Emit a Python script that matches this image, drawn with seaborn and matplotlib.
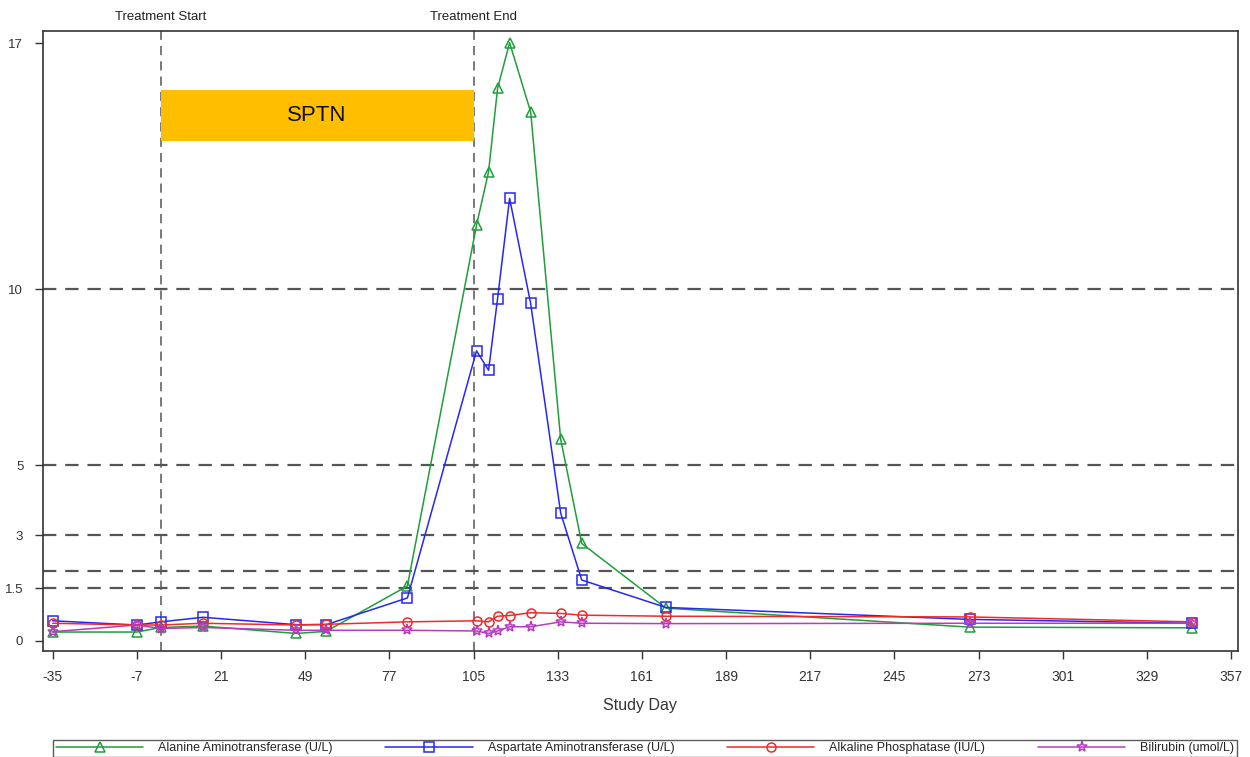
import matplotlib
matplotlib.use("Agg")
import matplotlib.pyplot as plt
import seaborn as sns
import pandas as pd

# Study days of each lab draw
days = [-35, -7, 1, 15, 46, 56, 83, 106, 110, 113, 117, 124, 134, 141, 169, 270, 344]

# Values (x ULN)
alt = [0.25, 0.25, 0.38, 0.42, 0.21, 0.27, 1.56, 11.83, 13.35, 15.72, 17.02, 15.05, 5.73, 2.77, 0.93, 0.39, 0.37]
ast = [0.57, 0.45, 0.54, 0.67, 0.46, 0.46, 1.22, 8.25, 7.70, 9.74, 12.59, 9.60, 3.63, 1.73, 0.95, 0.61, 0.50]
alp = [0.50, 0.45, 0.45, 0.50, 0.45, 0.47, 0.54, 0.57, 0.54, 0.70, 0.72, 0.80, 0.78, 0.73, 0.70, 0.68, 0.54]
bili = [0.26, 0.45, 0.35, 0.38, 0.30, 0.30, 0.30, 0.28, 0.21, 0.28, 0.40, 0.40, 0.54, 0.50, 0.49, 0.50, 0.50]

series_names = ['Alanine Aminotransferase (U/L)', 'Aspartate Aminotransferase (U/L)',
                'Alkaline Phosphatase (IU/L)', 'Bilirubin (umol/L)']
series_vals = [alt, ast, alp, bili]
series_colors = ['#1f9e3a', '#2727f0', '#f02a2a', '#b63cc0']
series_markers = ['^', 's', 'o', '*']

ref_levels = [1.5, 2, 3, 5, 10]
y_ticks = [0, 1.5, 3, 5, 10, 17]
x_ticks = list(range(-35, 358, 28))

trt_start, trt_end = 1, 105
bar_low, bar_high = 14.22, 15.67

sns.set_theme(style="white")
plt.rcParams['font.family'] = ['Liberation Sans', 'DejaVu Sans']

fig = plt.figure(figsize=(12.5, 7.57), dpi=100)
ax = fig.add_axes([0.0342, 0.140, 0.9562, 0.8194])

# reference lines
for lvl in ref_levels:
    ax.axhline(lvl, color='#555555', linestyle=(0, (6, 4)), linewidth=1.6, zorder=1)
for d in (trt_start, trt_end):
    ax.axvline(d, color='#555555', linestyle=(0, (6, 4)), linewidth=1.1, zorder=1)

# treatment bar
ax.fill_between([trt_start, trt_end], bar_low, bar_high, color='#ffbe00', linewidth=0, zorder=2)
ax.text((trt_start + trt_end) / 2, (bar_low + bar_high) / 2, 'SPTN', ha='center', va='center',
        fontsize=16, color='#111111', zorder=3)

for name, vals, c, m in zip(series_names, series_vals, series_colors, series_markers):
    df = pd.DataFrame({'day': days, 'value': vals})
    sns.lineplot(data=df, x='day', y='value', ax=ax, color=c, linewidth=1.1,
                 marker=m, markersize=8 if m == '*' else 6.5, markerfacecolor='none',
                 markeredgecolor=c, markeredgewidth=1.1, label=name, zorder=4)

ax.set_xlim(-38.3, 359.3)
ax.set_ylim(-0.29, 17.36)
ax.set_xticks(x_ticks)
ax.set_xticklabels([str(t) for t in x_ticks], fontsize=10, color='#333333')
ax.set_yticks(y_ticks)
ax.set_yticklabels(['0', '1.5', '3', '5', '10', '17'], fontsize=9.5, color='#333333')
ax.tick_params(axis='both', direction='out', length=6, width=1, color='#333333', pad=8,
               bottom=True, left=True)
ax.set_xlabel('Study Day', fontsize=11.5, color='#333333', labelpad=10)
ax.set_ylabel('')
for s in ax.spines.values():
    s.set_color('#333333')
    s.set_linewidth(1.2)

# treatment labels above the plot
for d, lab in ((trt_start, 'Treatment Start'), (trt_end, 'Treatment End')):
    ax.text(d, 1.012, lab, transform=ax.get_xaxis_transform(), ha='center', va='bottom',
            fontsize=9.5, color='#222222')

handles, labels = ax.get_legend_handles_labels()
ax.get_legend().remove()
leg = fig.legend(handles, labels, loc='upper center', bbox_to_anchor=(0.516, 0.031), ncol=4,
                 fontsize=9, frameon=True, fancybox=False, handlelength=7,
                 handletextpad=1.2, columnspacing=4.2, borderpad=0.2, edgecolor='#333333')
leg.get_frame().set_linewidth(1)

fig.savefig('out.png', dpi=100)
